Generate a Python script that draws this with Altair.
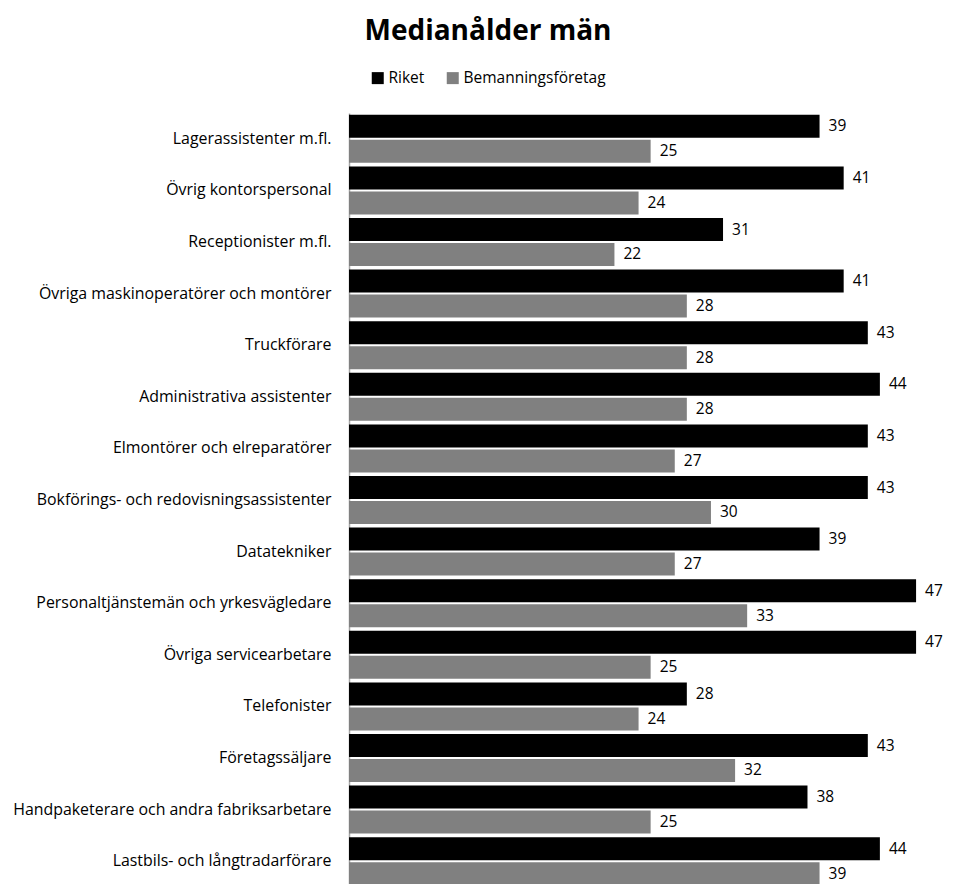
import altair as alt
import pandas as pd

categories = [
    "Lagerassistenter m.fl.",
    "Övrig kontorspersonal",
    "Receptionister m.fl.",
    "Övriga maskinoperatörer och montörer",
    "Truckförare",
    "Administrativa assistenter",
    "Elmontörer och elreparatörer",
    "Bokförings- och redovisningsassistenter",
    "Datatekniker",
    "Personaltjänstemän och yrkesvägledare",
    "Övriga servicearbetare",
    "Telefonister",
    "Företagssäljare",
    "Handpaketerare och andra fabriksarbetare",
    "Lastbils- och långtradarförare",
]
riket = [39, 41, 31, 41, 43, 44, 43, 43, 39, 47, 47, 28, 43, 38, 44]
bemanning = [25, 24, 22, 28, 28, 28, 27, 30, 27, 33, 25, 24, 32, 25, 39]
series = ["Riket", "Bemanningsföretag"]
colors = ["#000000", "#808080"]

rows = []
for c, r, b in zip(categories, riket, bemanning):
    rows.append({"yrke": c, "serie": series[0], "värde": r})
    rows.append({"yrke": c, "serie": series[1], "värde": b})
df = pd.DataFrame(rows)

FONT = "Open Sans"
FS = 15.5

y_enc = alt.Y(
    "yrke:N",
    sort=categories,
    scale=alt.Scale(paddingInner=0.07, paddingOuter=0.035),
    axis=alt.Axis(
        title=None,
        ticks=False,
        domain=True,
        domainColor="#a6a6a6",
        domainWidth=1.5,
        labelFont=FONT,
        labelFontSize=15.9,
        labelColor="#000000",
        labelPadding=18,
        labelLimit=400,
    ),
)
yoff = alt.YOffset("serie:N", sort=series, scale=alt.Scale(paddingInner=0.08, paddingOuter=0))
x_enc = alt.X(
    "värde:Q",
    scale=alt.Scale(domain=[0, 48.9], nice=False, zero=True),
    axis=None,
)

bars = alt.Chart(df).mark_bar(stroke=None).encode(
    y=y_enc,
    yOffset=yoff,
    x=x_enc,
    color=alt.Color(
        "serie:N",
        sort=series,
        scale=alt.Scale(domain=series, range=colors),
        legend=alt.Legend(
            title=None,
            orient="none",
            legendX=21,
            legendY=-43,
            direction="horizontal",
            symbolType="square",
            symbolSize=144,
            symbolStrokeWidth=0,
            labelFont=FONT,
            labelFontSize=FS,
            labelColor="#000000",
            labelOffset=3,
            columnPadding=20,
            padding=0,
        ),
    ),
)

labels = alt.Chart(df).mark_text(
    align="left", baseline="middle", dx=9, font=FONT, fontSize=FS, color="#000000"
).encode(
    y=alt.Y("yrke:N", sort=categories),
    yOffset=alt.YOffset("serie:N", sort=series),
    x="värde:Q",
    text="värde:Q",
)

chart = (
    alt.layer(bars, labels)
    .properties(
        width=590,
        height=774,
        padding={"left": 341, "top": 105, "right": 5, "bottom": 0},
        autosize=alt.AutoSizeParams(type="none"),
        title=alt.TitleParams(
            "Medianålder män",
            font=FONT,
            fontSize=28,
            fontWeight="bold",
            color="#000000",
            anchor="middle",
            frame="group",
            dx=-156,
            offset=24,
        ),
    )
    .configure_view(stroke=None)
)

chart.save("out.html", embed_options={"renderer": "svg", "actions": False})
